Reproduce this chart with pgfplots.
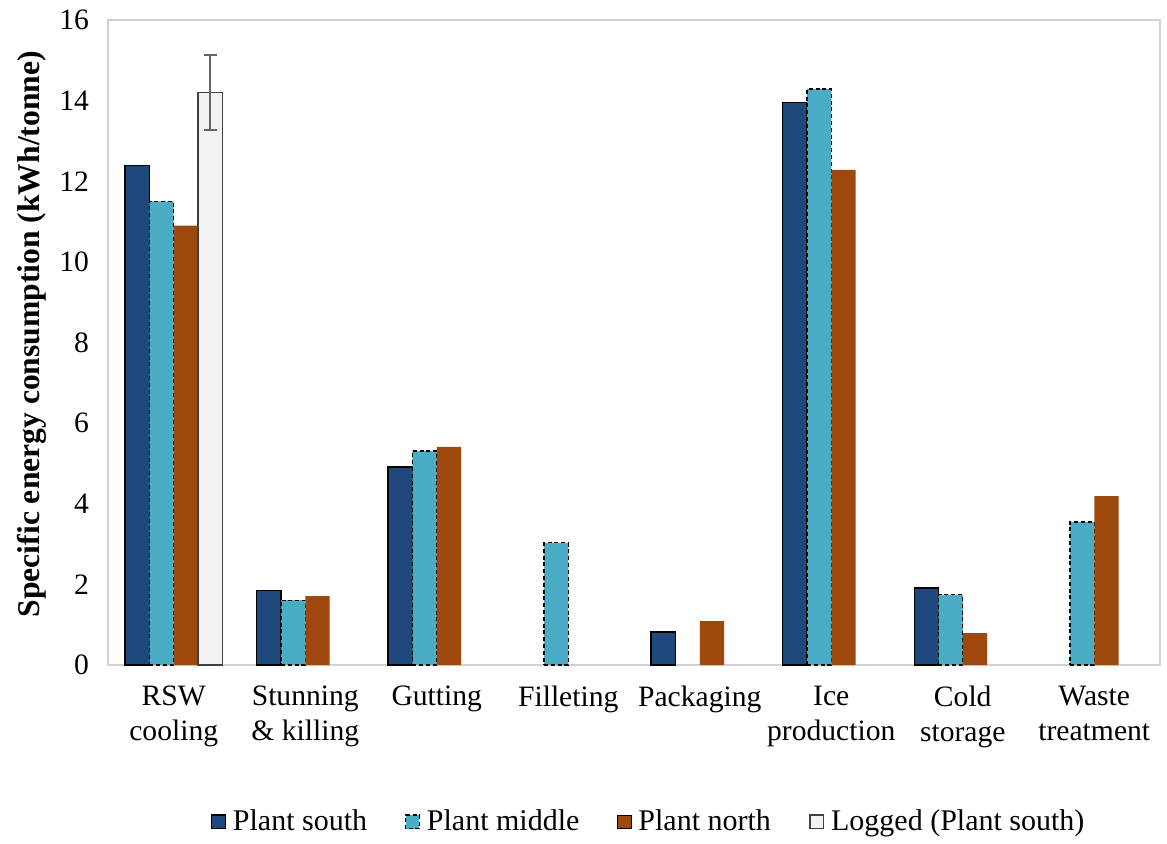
\documentclass[border=0pt]{standalone}
\usepackage{fontspec}
\setmainfont{Liberation Serif}
\usepackage{pgfplots}
\pgfplotsset{compat=1.18}
\definecolor{south}{HTML}{1F497D}
\definecolor{middle}{HTML}{4BACC6}
\definecolor{north}{HTML}{9E480E}
\definecolor{logged}{HTML}{F2F2F2}
\begin{document}
\begin{tikzpicture}
\begin{axis}[
    name=ax,
    scale only axis,
    width=526pt, height=322.5pt,
    ybar, bar width=0.185,
    xmin=-0.5, xmax=7.5,
    ymin=0, ymax=16,
    ytick={0,2,...,16},
    xtick={0,...,7},
    xticklabels={RSW\\cooling, Stunning\\\& killing, Gutting, Filleting, Packaging, Ice\\production, Cold\\storage, Waste\\treatment},
    xticklabel style={align=center, font=\fontsize{14.8}{17.5}\selectfont, yshift=-7pt},
    yticklabel style={font=\fontsize{14.8}{17}\selectfont, xshift=-6pt},
    /pgf/number format/assume math mode=true,
    major tick length=0pt,
    axis line style={draw=black!18, line width=0.8pt},
    ylabel={\bfseries Specific energy consumption (kWh/tonne)},
    ylabel style={at={(axis description cs:-0.072,0.513)}, anchor=center, font=\fontsize{15.8}{18}\selectfont},
    legend style={at={(axis description cs:0.515,-0.243)}, anchor=center, draw=none,
        font=\fontsize{15}{17}\selectfont, legend columns=-1,
        /tikz/every even column/.append style={column sep=17pt}},
    legend image code/.code={\draw[#1] (0pt,-3.4pt) rectangle (6.8pt,3.4pt); \path (8.3pt,0pt);},
]
\addplot[fill=south, draw=black, line width=0.6pt, bar shift=-0.2775]
    coordinates {(0,12.4) (1,1.84) (2,4.91) (4,0.82) (5,13.95) (6,1.91)};
\addplot[fill=middle, draw=black, line width=0.6pt, dash pattern=on 2pt off 1.4pt, bar shift=-0.0925]
    coordinates {(0,11.5) (1,1.61) (2,5.31) (3,3.03) (5,14.29) (6,1.74) (7,3.55)};
\addplot[fill=north, draw=none, bar shift=0.0925]
    coordinates {(0,10.9) (1,1.71) (2,5.41) (4,1.09) (5,12.28) (6,0.79) (7,4.19)};
\addplot[fill=logged, draw=black!75, line width=0.8pt, bar shift=0.2775,
    error bars/.cd, y dir=both, y explicit,
    error mark=-,
    error bar style={draw=black!60, line width=0.8pt},
    error mark options={rotate=90, draw=black!60, mark size=3.3pt, line width=0.8pt}]
    coordinates {(0,14.2) +- (0,0.93)};
\legend{Plant south, Plant middle, Plant north, Logged (Plant south)}
\coordinate (bl) at (rel axis cs:0,0);
\coordinate (tr) at (rel axis cs:1,1);
\end{axis}
\pgfresetboundingbox
\path ([shift={(-54pt,-89pt)}]bl) rectangle ([shift={(3.5pt,10pt)}]tr);
\end{tikzpicture}
\end{document}
